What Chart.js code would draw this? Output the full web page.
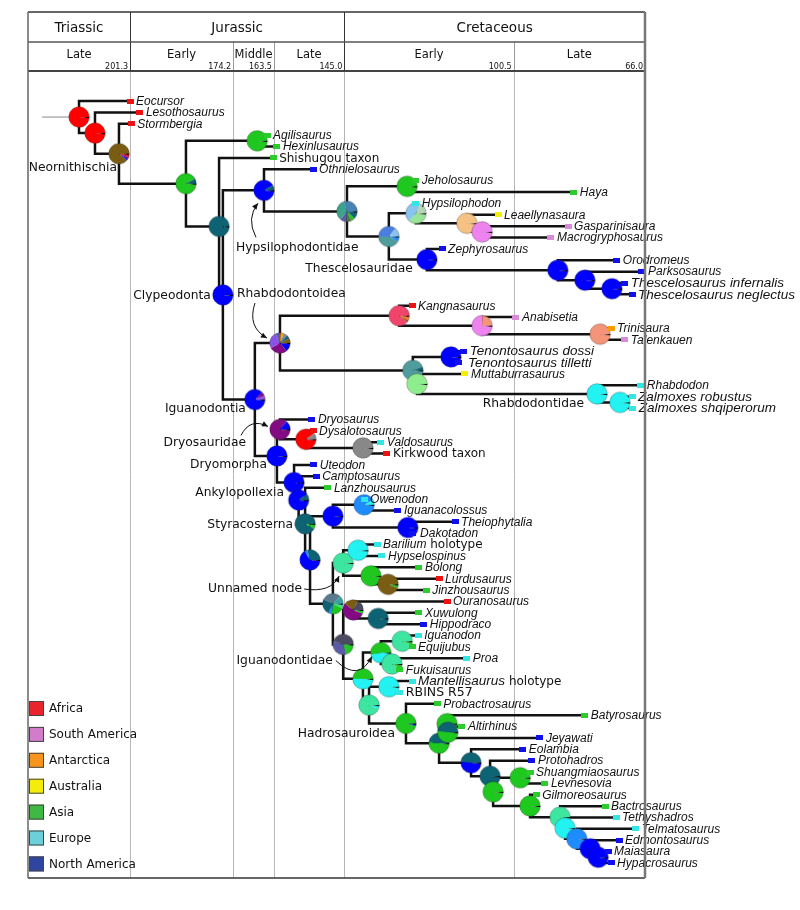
<!DOCTYPE html>
<html><head><meta charset="utf-8">
<script src="https://cdn.jsdelivr.net/npm/chart.js@4.4.1/dist/chart.umd.min.js"></script>
<style>html,body{margin:0;padding:0;background:#fff}canvas{display:block}</style>
</head><body>
<canvas id="c" width="800" height="910"></canvas>
<script>
// ---------------- DATA ----------------
const tipNames = ['Eocursor','Lesothosaurus','Stormbergia','Agilisaurus','Hexinlusaurus','Shishugou taxon','Othnielosaurus',
'Jeholosaurus','Haya','Hypsilophodon','Leaellynasaura','Gasparinisaura','Macrogryphosaurus','Zephyrosaurus','Orodromeus',
'Parksosaurus','Thescelosaurus infernalis','Thescelosaurus neglectus','Kangnasaurus','Anabisetia','Trinisaura','Talenkauen',
'Tenontosaurus dossi','Tenontosaurus tilletti','Muttaburrasaurus','Rhabdodon','Zalmoxes robustus','Zalmoxes shqiperorum',
'Dryosaurus','Dysalotosaurus','Valdosaurus','Kirkwood taxon','Uteodon','Camptosaurus','Lanzhousaurus','Owenodon',
'Iguanacolossus','Theiophytalia','Dakotadon','Barilium holotype','Hypselospinus','Bolong','Lurdusaurus','Jinzhousaurus',
'Ouranosaurus','Xuwulong','Hippodraco','Iguanodon','Equijubus','Proa','Fukuisaurus','Mantellisaurus holotype','RBINS R57',
'Probactrosaurus','Batyrosaurus','Altirhinus','Jeyawati','Eolambia','Protohadros','Shuangmiaosaurus','Levnesovia',
'Gilmoreosaurus','Bactrosaurus','Tethyshadros','Telmatosaurus','Edmontosaurus','Maiasaura','Hypacrosaurus'];
// upright (non-italic) tail of each label
const tipRoman = {5:'Shishugou taxon',31:'Kirkwood taxon',39:' holotype',51:' holotype',52:'RBINS R57'};
// tip ages (Ma)
const tipAges = [201.3,198.7,201.0,165.3,162.7,163.7,153.2,126.2,84.7,126.2,104.6,86.2,90.7,119.3,73.4,66.8,71.3,69.4,
127.2,99.9,74.9,71.3,113.6,115.1,113.3,67.1,69.4,69.2,153.5,153.2,135.4,133.8,153.0,152.4,149.3,139.8,130.9,115.9,127.2,
136.4,135.1,125.4,120.1,123.5,118.0,125.4,124.1,125.6,127.2,112.8,130.4,127.2,130.4,120.6,81.8,114.1,93.6,98.1,95.7,96.2,
92.3,94.6,76.5,73.6,68.4,72.8,75.7,74.9];
// tip areas
const tipAreas = ['AF','AF','AF','AS','AS','AS','NA','AS','AS','EU','AU','SA','SA','NA','NA','NA','NA','NA','AF','SA','AN','SA',
'NA','NA','AU','EU','EU','EU','NA','AF','EU','AF','NA','NA','AS','EU','NA','NA','NA','EU','EU','AS','AF','AS','AF','AS','NA',
'EU','AS','EU','AS','EU','EU','AS','AS','AS','NA','NA','NA','AS','AS','AS','AS','EU','EU','NA','NA','NA'];

// internal nodes
const nodeIds = ['R0','N1','N2','N3','N4','N5','CL','N7','N8','N9','N10','N11','N13','N14','N12','N15','N16','N17',
'IGD','N18','N19','N20','N21','N23','N24','LG','RH','N26','DM','DS','N29','N30','AP','P2','ST','P5','P4','OW','DK',
'M1','UN','BR','BL','LU','M3','M2','XW','H1','IG','IQ','FK','H2','MT','HD','B1','BA','AT','EO','PR','G1','SH','GL',
'L1','L2','L3','L4','L5'];
const nodeAges = [214.7,210.5,204.2,186.6,167.9,177.9,176.9,166.1,144.3,128.5,133.3,126.2,112.8,108.8,123.3,88.9,81.8,74.7,
168.5,161.9,130.6,108.8,77.8,127.0,117.0,125.9,78.6,72.6,162.7,161.9,155.1,140.1,158.2,157.0,155.3,154.0,148.0,139.8,128.3,
148.0,145.3,141.4,138.0,133.5,145.3,142.7,136.1,140.1,135.4,129.8,132.5,138.5,133.3,128.8,120.1,118.0,117.8,111.7,106.7,105.9,
98.8,96.2,88.3,87.0,83.9,80.4,78.3];
const nodeChildren = [[0,'N1'],[1,'N2'],[2,'N3'],['N4','N5'],[3,4],[5,'CL'],['N7','IGD'],[6,'N8'],['N9','N10'],[7,8],
['N11','N12'],[9,'N13'],[10,'N14'],[11,12],[13,'N15'],[14,'N16'],[15,'N17'],[16,17],
['N18','DM'],['N19','N23'],[18,'N20'],[19,'N21'],[20,21],['N24','LG'],[22,23],[24,'RH'],[25,'N26'],[26,27],
['DS','AP'],[28,'N29'],[29,'N30'],[30,31],[32,'P2'],[33,'ST'],[34,'P5'],['P4','M1'],['OW','DK'],[35,36],[37,38],
['UN','M3'],['BR','BL'],[39,40],[41,'LU'],[42,43],['M2','H1'],[44,'XW'],[45,46],['IG','H2'],['IQ','FK'],[47,48],[49,50],
['MT','HD'],[51,52],[53,'B1'],['BA','EO'],[54,'AT'],[55,56],[57,'PR'],[58,'G1'],['SH','GL'],[59,60],[61,'L1'],
[62,'L2'],[63,'L3'],[64,'L4'],[65,'L5'],[66,67]];
// ancestral-area probabilities (%), slices clockwise from east
const nodePies = [
[['X',2],['AF',98]],[['X',2],['AF',98]],[['X',2],['AF',3],['AFNA',3],['NA',3],['AFAS',89]],
[['X',2],['AS',90],['ASNA',8]],[['X',2],['AS',98]],[['X',2],['ASNA',98]],[['X',2],['NA',98]],
[['X',2],['NA',90],['ASNA',8]],
[['X',2],['ASNA',10],['AS',6],['DOG',8],['SLB',10],['SGR',34],['STL',30]],
[['X',2],['AS',98]],
[['X',2],['EUNA',6],['CAD',42],['RB',36],['LSB',14]],
[['X',2],['PGR',35],['LSB',45],['GGR',18]],
[['X',2],['ANAU',98]],[['X',2],['SA',98]],[['X',2],['NA',98]],[['X',2],['NA',98]],[['X',2],['NA',98]],[['X',2],['NA',98]],
[['X',2],['NA',86],['AFNA',6],['MP',6]],
[['X',2],['NA',12],['AFNA',28],['MP',26],['SLB',8],['AN',5],['AFEU',6],['ASNA',6],['AFAS',7]],
[['X',2],['OR2',5],['BR2',4],['SAAF',89]],
[['X',2],['SA',74],['SAAN',24]],[['X',2],['SAAN',98]],
[['X',2],['CAD',92],['ASNA',6]],[['X',2],['NA',98]],[['X',2],['AUEU',98]],[['X',2],['EU',98]],[['X',2],['EU',98]],
[['X',2],['NA',98]],[['X',2],['AFNA',84],['NA',14]],[['X',2],['AF',88],['AFEU',10]],[['X',2],['AFEU',98]],
[['X',2],['NA',98]],[['X',2],['NA',88],['ASNA',10]],[['X',2],['AS',6],['ASNA',92]],
[['X',2],['NA',64],['EUNA',5],['ASNA',29]],[['X',2],['NA',98]],[['X',2],['EUNA',90],['EU',8]],[['X',2],['NA',98]],
[['X',2],['EUAS',5],['AS',20],['EUNA',5],['ASNA',25],['SLG',30],['CADT',13]],
[['X',2],['EUAS',98]],[['X',2],['EU',98]],[['X',2],['AS',98]],[['X',2],['AS',4],['AFAS',94]],
[['X',2],['AS',18],['SLB',35],['DSL',45]],
[['X',2],['AS',4],['AFNA',55],['AFAS',22],['DSL',17]],
[['X',2],['ASNA',98]],
[['X',2],['EU',48],['AS',50]],[['X',2],['EU',45],['AS',53]],[['X',2],['AS',4],['EUAS',94]],[['X',2],['AS',6],['EUAS',92]],
[['X',2],['EU',4],['EUAS',94]],[['X',2],['EU',98]],[['X',2],['NA',2],['AS',96]],
[['X',2],['AS',50],['ASNA',48]],[['X',2],['AS',98]],[['X',2],['AS',50],['ASNA',48]],[['X',2],['NA',50],['ASNA',48]],
[['X',2],['ASNA',98]],[['X',2],['AS',98]],[['X',2],['AS',98]],[['X',2],['AS',98]],
[['X',2],['EUAS',98]],[['X',2],['EU',98]],[['X',2],['EUNA',98]],[['X',2],['NA',98]],[['X',2],['NA',98]]];

const stateColors = {X:'#000000',AF:'#ff0000',SA:'#ee82ee',AN:'#ffa500',AU:'#ffff00',AS:'#1ec81e',EU:'#22f2f2',NA:'#0000ff',
AFAS:'#7a5c12',ASNA:'#0d6274',AFNA:'#820a82',EUAS:'#3ce6a0',EUNA:'#1e8cff',AFEU:'#888888',SAAF:'#f0446a',SAAN:'#f49478',
ANAU:'#f6c283',AUEU:'#8eee8e',CAD:'#4f9c9c',CADT:'#3aa0a0',MP:'#8a55e6',SLB:'#5a5aa8',DSL:'#4a4a60',STL:'#4682b4',SGR:'#3aa38a',
DOG:'#4f7a3a',RB:'#4a7ee0',LSB:'#88c4ee',PGR:'#98e498',GGR:'#b4d4b4',OR2:'#ff7a26',BR2:'#a04c1c',SLG:'#587a8c'};
const tipColors = {AF:'#ee1111',SA:'#d98ad9',AN:'#ff9a00',AU:'#f5ee00',AS:'#2ccc2c',EU:'#33e6e6',NA:'#1010ee'};

const periodNames = ['Triassic','Jurassic','Cretaceous'];
const periodBounds = [228.1,201.3,145.0,66.0];
const epochNames = ['Late','Early','Middle','Late','Early','Late'];
const epochBounds = [228.1,201.3,174.2,163.5,145.0,100.5,66.0];
const epochEndLabels = ['201.3','174.2','163.5','145.0','100.5','66.0'];

const legendNames = ['Africa','South America','Antarctica','Australia','Asia','Europe','North America'];
const legendColors = ['#e8232b','#d27ccc','#f7941d','#f3ec0c','#3fb944','#6dcfda','#2f45a0'];

const cladeNames = ['Neornithischia','Hypsilophodontidae','Thescelosauridae','Clypeodonta','Rhabdodontoidea','Iguanodontia',
'Rhabdodontidae','Dryosauridae','Dryomorpha','Ankylopollexia','Styracosterna','Unnamed node','Iguanodontidae','Hadrosauroidea'];
const cladeNodes = ['N2','N7','N12','CL','N18','IGD','RH','DS','DM','AP','ST','UN','IG','HD'];

// ---------------- LAYOUT / STYLE ----------------
const cladeLayout = [[-2,14,'right'],[-28,57,'left'],[-14,9,'right'],[-12,1,'right'],[-43,-49,'left'],[-9,9,'right'],
[-13,10,'right'],[-34,13,'right'],[-10,9,'right'],[-10,10,'right'],[-12,1,'right'],[-41,26,'right'],[-48,8,'right'],[-11,10,'right']];
const arrowLayout = {N7:[-8,47,-18,28,-6,13],N18:[-25,-40,-33,-16,-13,-5],DS:[-39,6,-30,-12,-12,-3],UN:[-39,26,-12,30,-4,13],IG:[-45,8,-22,30,-9,4]};
const labelShift = {23:4,38:2};
const bigLabel = {16:1,17:1,22:1,23:1,26:1,27:1,51:1};

// ---------------- BUILD ----------------
const nodeIndex = {}; nodeIds.forEach((id,i)=>nodeIndex[id]=i);
const nodeY = [];
function yOf(c){ return typeof c==='number' ? c : nodeYAt(nodeIndex[c]); }
function nodeYAt(i){ if(nodeY[i]===undefined){ const ch=nodeChildren[i]; nodeY[i]=(yOf(ch[0])+yOf(ch[ch.length-1]))/2; } return nodeY[i]; }
function ageOf(c){ return typeof c==='number' ? tipAges[c] : nodeAges[nodeIndex[c]]; }
nodeIds.forEach((_,i)=>nodeYAt(i));

function makePie(slices){
  const s=24, c=document.createElement('canvas'); c.width=s; c.height=s;
  const g=c.getContext('2d'); const r=10.3, cx=s/2, cy=s/2;
  const total=slices.reduce((t,v)=>t+v[1],0);
  let ang=0;
  slices.forEach(([k,v])=>{ const a1=ang+v/total*2*Math.PI; g.beginPath(); g.moveTo(cx,cy); g.arc(cx,cy,r,ang,a1); g.closePath(); g.fillStyle=stateColors[k]; g.fill(); ang=a1; });
  g.beginPath(); g.arc(cx,cy,r,0,2*Math.PI); g.strokeStyle='rgba(40,40,40,0.45)'; g.lineWidth=0.7; g.stroke();
  return c;
}
function makeMarker(col){
  const c=document.createElement('canvas'); c.width=7; c.height=5;
  const g=c.getContext('2d'); g.fillStyle=col; g.fillRect(0,0,7,5); return c;
}

const datasets = [];
datasets.push({data: tipNames.map((_,i)=>({x:tipAges[i], y:i})), pointStyle: tipAreas.map(a=>makeMarker(tipColors[a])),
  pointRadius:3, showLine:false, order:1, clip:false});
datasets.push({data: nodeIds.map((_,i)=>({x:nodeAges[i], y:nodeY[i]})), pointStyle: nodePies.map(makePie),
  pointRadius:10, showLine:false, order:2, clip:false});
nodeIds.forEach((id,i)=>{
  const ch=nodeChildren[i], c0=ch[0], c1=ch[ch.length-1];
  datasets.push({data:[{x:ageOf(c0),y:yOf(c0)},{x:nodeAges[i],y:yOf(c0)},{x:nodeAges[i],y:yOf(c1)},{x:ageOf(c1),y:yOf(c1)}],
    showLine:true, borderColor:'#111', borderWidth:2.5, pointRadius:0, fill:false, order:3, clip:false,
    borderJoinStyle:'miter', borderCapStyle:'butt', tension:0});
});
datasets.push({data:[{x:224.4,y:nodeY[0]},{x:nodeAges[0],y:nodeY[0]}], showLine:true, borderColor:'#8a8a8a', borderWidth:1,
  pointRadius:0, order:4, clip:false});

const SANS='"DejaVu Sans", Verdana, sans-serif';
const ITAL='"Liberation Sans", Arial, sans-serif';
const treePlugin = {
  id:'tree',
  beforeDraw(chart){
    const ctx=chart.ctx; ctx.save(); ctx.fillStyle='#fff'; ctx.fillRect(0,0,chart.width,chart.height); ctx.restore();
  },
  beforeDatasetsDraw(chart){
    const ctx=chart.ctx, a=chart.chartArea, X=v=>chart.scales.x.getPixelForValue(v);
    const top=a.top, r1=top+30, r2=top+59;
    ctx.save();
    ctx.strokeStyle='#b6b6b6'; ctx.lineWidth=1;
    epochBounds.slice(1,-1).forEach(v=>{ const x=Math.round(X(v))+0.5; ctx.beginPath(); ctx.moveTo(x,r2); ctx.lineTo(x,a.bottom); ctx.stroke(); });
    ctx.fillStyle='#111'; ctx.textAlign='center'; ctx.textBaseline='middle';
    ctx.font='13.5px '+SANS;
    periodNames.forEach((n,i)=>{ ctx.fillText(n,(X(periodBounds[i])+X(periodBounds[i+1]))/2,(top+r1)/2+1); });
    ctx.font='11.5px '+SANS;
    epochNames.forEach((n,i)=>{ ctx.fillText(n,(X(epochBounds[i])+X(epochBounds[i+1]))/2,r1+13); });
    ctx.font='8px '+SANS; ctx.textAlign='right'; ctx.textBaseline='alphabetic';
    epochEndLabels.forEach((t,i)=>{ ctx.fillText(t,X(epochBounds[i+1])-2,r2-2); });
    ctx.strokeStyle='#333'; ctx.lineWidth=1;
    periodBounds.slice(1,-1).forEach(v=>{ const x=Math.round(X(v))+0.5; ctx.beginPath(); ctx.moveTo(x,top); ctx.lineTo(x,r2); ctx.stroke(); });
    ctx.strokeStyle='#9a9a9a';
    [174.2,163.5,100.5].forEach(v=>{ const x=Math.round(X(v))+0.5; ctx.beginPath(); ctx.moveTo(x,r1); ctx.lineTo(x,r2); ctx.stroke(); });
    ctx.strokeStyle='#555'; ctx.lineWidth=1.3; ctx.beginPath(); ctx.moveTo(a.left,r1); ctx.lineTo(a.right,r1); ctx.stroke();
    ctx.strokeStyle='#444'; ctx.lineWidth=2; ctx.beginPath(); ctx.moveTo(a.left,r2); ctx.lineTo(a.right,r2); ctx.stroke();
    ctx.restore();
  },
  afterDatasetsDraw(chart){
    const ctx=chart.ctx, a=chart.chartArea, X=v=>chart.scales.x.getPixelForValue(v), Y=v=>chart.scales.y.getPixelForValue(v);
    ctx.save();
    ctx.fillStyle='#111'; ctx.textBaseline='middle'; ctx.textAlign='left';
    tipNames.forEach((name,i)=>{
      const x=X(tipAges[i])+6+(labelShift[i]||0), y=Y(i)+0.5;
      const roman=tipRoman[i]||''; const ital=name.slice(0,name.length-roman.length);
      ctx.font='italic '+(bigLabel[i]?'13.5px ':'12px ')+ITAL; ctx.fillText(ital,x,y);
      const w=ital?ctx.measureText(ital).width:0;
      if(roman){ ctx.font=(i===52?'12.5px ':'12px ')+SANS; ctx.fillText(roman,x+w,y); }
    });
    ctx.font='12.3px '+SANS;
    cladeNames.forEach((n,i)=>{
      const k=nodeIndex[cladeNodes[i]], L=cladeLayout[i];
      ctx.textAlign=L[2]; ctx.fillText(n,X(nodeAges[k])+L[0],Y(nodeY[k])+L[1]);
    });
    ctx.strokeStyle='#111'; ctx.fillStyle='#111'; ctx.lineWidth=1;
    Object.keys(arrowLayout).forEach(id=>{
      const k=nodeIndex[id], nx=X(nodeAges[k]), ny=Y(nodeY[k]), o=arrowLayout[id];
      const x0=nx+o[0],y0=ny+o[1],cx=nx+o[2],cy=ny+o[3],x1=nx+o[4],y1=ny+o[5];
      ctx.beginPath(); ctx.moveTo(x0,y0); ctx.quadraticCurveTo(cx,cy,x1,y1); ctx.stroke();
      const ang=Math.atan2(y1-cy,x1-cx), Lh=6, W=2.8;
      ctx.beginPath(); ctx.moveTo(x1,y1);
      ctx.lineTo(x1-Lh*Math.cos(ang)+W*Math.sin(ang), y1-Lh*Math.sin(ang)-W*Math.cos(ang));
      ctx.lineTo(x1-Lh*Math.cos(ang)-W*Math.sin(ang), y1-Lh*Math.sin(ang)+W*Math.cos(ang));
      ctx.closePath(); ctx.fill();
    });
    const lx=a.left+1, ly=a.bottom-177;
    ctx.font='12px '+SANS; ctx.textAlign='left';
    legendNames.forEach((n,i)=>{
      const y=ly+i*25.9;
      ctx.fillStyle=legendColors[i]; ctx.fillRect(lx,y,15,15);
      ctx.strokeStyle='#444'; ctx.lineWidth=1; ctx.strokeRect(lx+0.5,y+0.5,14,14);
      ctx.fillStyle='#111'; ctx.fillText(n,lx+20,y+8);
    });
    ctx.strokeStyle='#333'; ctx.lineWidth=1.5;
    ctx.beginPath(); ctx.moveTo(a.left,a.top); ctx.lineTo(a.right,a.top); ctx.stroke();
    ctx.beginPath(); ctx.moveTo(a.left,a.bottom); ctx.lineTo(a.right,a.bottom); ctx.stroke();
    ctx.strokeStyle='#666'; ctx.beginPath(); ctx.moveTo(a.left,a.top); ctx.lineTo(a.left,a.bottom); ctx.stroke();
    ctx.strokeStyle='#777'; ctx.lineWidth=2.5; ctx.beginPath(); ctx.moveTo(a.right,a.top); ctx.lineTo(a.right,a.bottom); ctx.stroke();
    ctx.restore();
  }
};

new Chart(document.getElementById('c').getContext('2d'), {
  type:'scatter',
  data:{datasets},
  options:{
    responsive:false, animation:false, devicePixelRatio:1, events:[],
    layout:{padding:{left:28,right:155,top:12,bottom:32}},
    scales:{
      x:{type:'linear',display:false,reverse:true,min:66.0,max:228.1},
      y:{type:'linear',display:false,reverse:true,min:-7.83,max:68.32}
    },
    plugins:{legend:{display:false},tooltip:{enabled:false}}
  },
  plugins:[treePlugin]
});
</script>
</body></html>
